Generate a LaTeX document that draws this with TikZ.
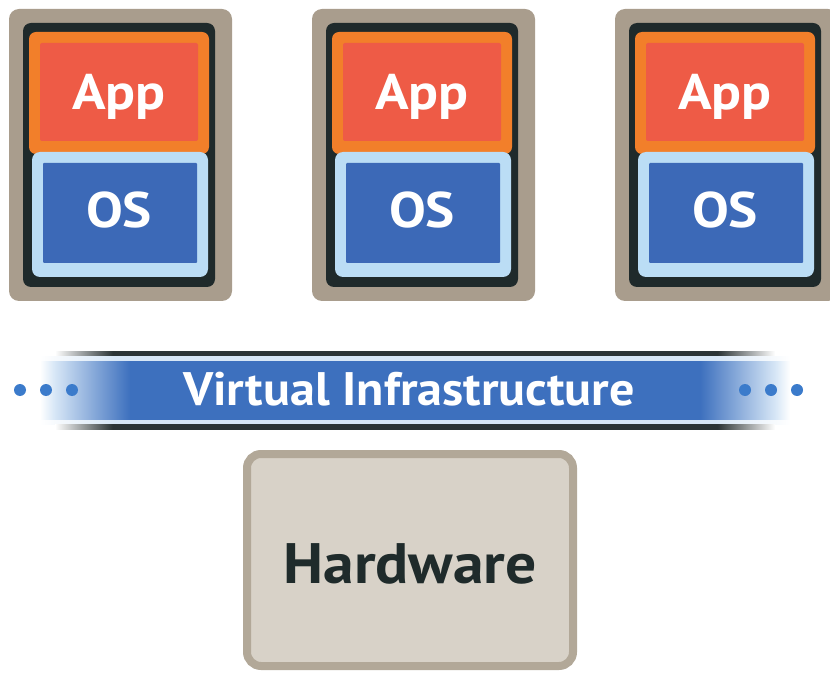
\documentclass[tikz,border=0pt]{standalone}
\usepackage{fontspec}
\setmainfont{PT Sans}
\definecolor{tanc}{HTML}{A99D8D}
\definecolor{darkc}{HTML}{1F2A2B}
\definecolor{orangec}{HTML}{F27F2A}
\definecolor{redc}{HTML}{EE5B46}
\definecolor{ltblue}{HTML}{BBDDF5}
\definecolor{bluec}{HTML}{3C69B7}
\definecolor{bandblue}{HTML}{3D70BE}
\definecolor{bandlight}{HTML}{D6E6F6}
\definecolor{banddark}{HTML}{2B3436}
\definecolor{dotblue}{HTML}{3B7BCB}
\definecolor{hwfill}{HTML}{D8D2C8}
\definecolor{hwborder}{HTML}{B2A898}
\definecolor{hwtext}{HTML}{1F2B2B}
\pgfdeclarehorizontalshading{bandfade}{100bp}{color(0bp)=(white); color(25bp)=(white); color(26bp)=(bandlight); color(31bp)=(bandblue); color(69bp)=(bandblue); color(74bp)=(bandlight); color(75bp)=(white); color(100bp)=(white)}
\pgfdeclarehorizontalshading{lightfade}{100bp}{color(0bp)=(white); color(25bp)=(white); color(30bp)=(bandlight); color(70bp)=(bandlight); color(75bp)=(white); color(100bp)=(white)}
\pgfdeclarehorizontalshading{darkfade}{100bp}{color(0bp)=(white); color(25bp)=(white); color(29bp)=(banddark); color(71bp)=(banddark); color(75bp)=(white); color(100bp)=(white)}
\newcommand\widetext[2]{\scalebox{#1}[1]{#2}}
\begin{document}
\begin{tikzpicture}[x=1pt,y=-1pt,
  vmtext/.style={font=\bfseries\fontsize{50}{50}\selectfont, text=white, anchor=base, inner sep=0pt},
  bandtext/.style={font=\bfseries\fontsize{47}{47}\selectfont, text=white, anchor=base, inner sep=0pt},
  hwtextstyle/.style={font=\bfseries\fontsize{57}{57}\selectfont, text=hwtext, anchor=base, inner sep=0pt}]
\useasboundingbox (0,0) rectangle (830,676);
\fill[white] (0,0) rectangle (830,676);
% virtual machines
\foreach \i/\x in {1/9,2/312,3/615}{
  \begin{scope}[shift={(\x,9)}]
    \fill[tanc, rounded corners=10] (0,0) rectangle (223,292);
    \fill[darkc, rounded corners=8] (14,14) rectangle (206,278);
    \fill[orangec, rounded corners=7] (20,23) rectangle (200,145);
    \fill[redc, rounded corners=2] (31,34) rectangle (189,132);
    \fill[ltblue, rounded corners=8] (23,143) rectangle (199,268);
    \fill[bluec, rounded corners=1] (34,154) rectangle (188,254);
    \node[vmtext] (app\i) at (110,101) {\widetext{1.11}{App}};
    \node[vmtext] (os\i) at (110,219) {\widetext{1.1}{OS}};
  \end{scope}
}
% virtual infrastructure band
\shade[shading=darkfade] (55,351) rectangle (775,356);
\shade[shading=lightfade] (40,356) rectangle (790,424);
\shade[shading=bandfade] (40,361) rectangle (790,419);
\shade[shading=darkfade] (55,424) rectangle (775,429);
\node[bandtext] (vi) at (409,405) {\widetext{1.065}{Virtual Infrastructure}};
\foreach \x in {20,46,72,745,771,797}{
  \fill[dotblue] (\x,390) circle (6);
}
% hardware
\draw[hwborder, line width=8pt, fill=hwfill, rounded corners=14] (247,454) rectangle (573,666);
\node[hwtextstyle] (hw) at (410,583) {\widetext{1.08}{Hardware}};
\end{tikzpicture}
\end{document}
